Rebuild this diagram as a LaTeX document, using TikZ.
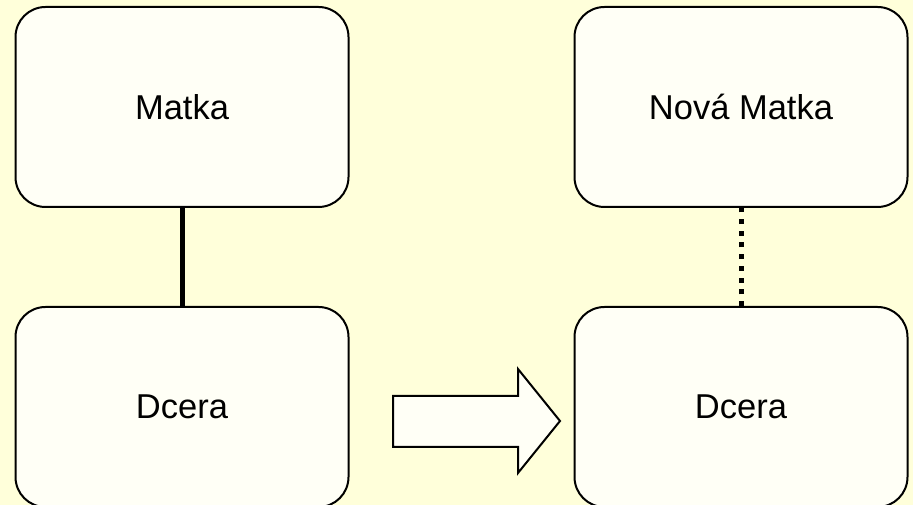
\documentclass[tikz,border=0pt]{standalone}
\usepackage{fontspec}
\setmainfont{Liberation Sans}
\definecolor{bg}{HTML}{FFFFDA}
\definecolor{boxfill}{HTML}{FFFFF6}
\begin{document}
\begin{tikzpicture}[x=1pt,y=1pt,
  card/.style={draw=black,line width=2pt,fill=boxfill,rounded corners=30pt,
    minimum width=333pt,minimum height=200pt,inner sep=0pt,
    font=\fontsize{34.5}{40}\selectfont},
  link/.style={line width=5pt},
  dottedlink/.style={line width=5pt,dash pattern=on 5pt off 6.7pt}]
\fill[bg] (0,0) rectangle (913,505);
\useasboundingbox (0,0) rectangle (913,505);
\begin{scope}
\clip (0,0) rectangle (913,505);
\node[card] (m) at (182,398) {Matka};
\node[card] (d1) at (182,98) {Dcera};
\node[card] (nm) at (741,398) {Nová Matka};
\node[card] (d2) at (741,98) {Dcera};
\draw[link] (m.south) -- (d1.north);
\draw[dottedlink] (d2.north) -- (nm.south);
\draw[line width=2pt,fill=boxfill,line join=miter]
  (393,109) -- (518,109) -- (518,136) -- (560,84) -- (518,32) -- (518,58) -- (393,58) -- cycle;
\end{scope}
\end{tikzpicture}
\end{document}
